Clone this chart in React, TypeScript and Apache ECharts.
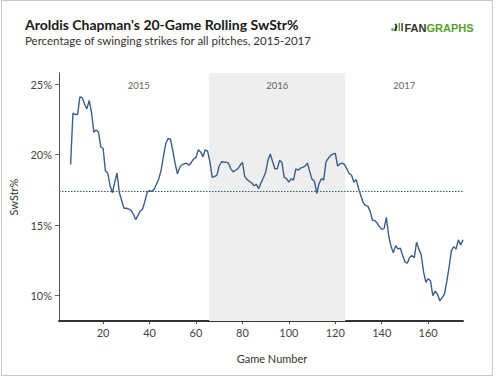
import React, { useEffect, useRef } from "react";
import * as echarts from "echarts";

const games: number[] = [
  6, 7, 8, 9, 10, 11, 12, 13, 14, 15, 16, 17, 18, 19, 20, 21, 22, 23, 24, 25,
  26, 27, 28, 29, 30, 31, 32, 33, 34, 35, 36, 37, 38, 39, 40, 41, 42, 43, 44, 45,
  46, 47, 48, 49, 50, 51, 52, 53, 54, 55, 56, 57, 58, 59, 60, 61, 62, 63, 64, 65,
  66, 67, 68, 69, 70, 71, 72, 73, 74, 75, 76, 77, 78, 79, 80, 81, 82, 83, 84, 85,
  86, 87, 88, 89, 90, 91, 92, 93, 94, 95, 96, 97, 98, 99, 100, 101, 102, 103, 104, 105,
  106, 107, 108, 109, 110, 111, 112, 113, 114, 115, 116, 117, 118, 119, 120, 121, 122, 123, 124, 125,
  126, 127, 128, 129, 130, 131, 132, 133, 134, 135, 136, 137, 138, 139, 140, 141, 142, 143, 144, 145,
  146, 147, 148, 149, 150, 151, 152, 153, 154, 155, 156, 157, 158, 159, 160, 161, 162, 163, 164, 165,
  166, 167, 168, 169, 170, 171, 172, 173, 174, 175,
];

const swstr: number[] = [
  19.3, 22.95, 22.85, 22.85, 24.1, 24.05, 23.6, 23.25, 23.85, 23.0, 21.6, 21.75, 21.6, 20.55, 20.45, 18.85, 18.7, 17.8, 17.3, 18.05,
  18.7, 17.3, 16.75, 16.2, 16.2, 16.15, 16.05, 15.8, 15.4, 15.7, 16.0, 16.15, 16.7, 17.35, 17.45, 17.4, 17.55, 17.9, 18.3, 18.9,
  19.9, 20.8, 21.15, 21.1, 20.3, 19.4, 18.65, 19.1, 19.3, 19.35, 19.4, 19.25, 19.45, 19.7, 19.8, 20.35, 20.2, 19.85, 20.35, 20.25,
  19.5, 18.4, 18.45, 18.55, 19.2, 19.5, 19.48, 19.47, 19.4, 19.0, 18.78, 18.9, 19.0, 19.25, 19.45, 18.45, 18.25, 18.1, 18.0, 17.8,
  17.9, 17.6, 18.0, 18.35, 18.75, 19.6, 20.05, 19.5, 19.0, 19.0, 19.6, 19.45, 18.4, 18.3, 18.05, 18.3, 18.2, 19.0, 18.9, 19.05,
  19.1, 19.2, 19.4, 18.8, 18.25, 18.15, 17.25, 17.95, 18.3, 18.2, 19.5, 19.75, 19.95, 20.05, 20.1, 19.2, 19.35, 19.4, 19.3, 19.0,
  18.65, 18.55, 18.05, 18.25, 17.6, 17.1, 16.6, 16.4, 16.35, 16.0, 15.35, 15.33, 15.15, 14.9, 14.7, 14.75, 15.55, 14.25, 13.5, 13.04,
  13.55, 13.32, 13.36, 12.84, 12.4, 12.3, 12.7, 12.84, 12.68, 13.79, 13.3, 12.9, 11.7, 10.95, 11.2, 11.05, 10.0, 10.31, 10.12, 9.64,
  9.86, 10.1, 11.0, 12.0, 13.2, 13.48, 13.3, 13.96, 13.6, 13.96,
];

const average = 17.39;
const xTicks: number[] = [20, 40, 60, 80, 100, 120, 140, 160];
const yTicks: number[] = [10, 15, 20, 25];
const seasons: string[] = ["2015", "2016", "2017"];
const seasonStart: number[] = [5, 65.7, 124.3];
const seasonEnd: number[] = [65.7, 124.3, 175.7];
const seasonShaded: boolean[] = [false, true, false];

export default function App() {
  const ref = useRef<HTMLDivElement>(null);

  useEffect(() => {
    document.body.style.margin = "0";
    if (!ref.current) return;
    const chart = echarts.init(ref.current, undefined, { renderer: "svg" });
    const font = "Lato, 'Open Sans', sans-serif";

    chart.setOption({
      animation: false,
      backgroundColor: "#ffffff",
      title: {
        text: "Aroldis Chapman's 20-Game Rolling SwStr%",
        subtext: "Percentage of swinging strikes for all pitches, 2015-2017",
        left: 20,
        top: 12,
        itemGap: 3,
        textStyle: { fontFamily: font, fontSize: 14, fontWeight: "bold", color: "#1a1a1a" },
        subtextStyle: { fontFamily: font, fontSize: 11.5, color: "#333333" },
      },
      grid: { left: 55, right: 33, top: 73, bottom: 56 },
      xAxis: {
        type: "value",
        min: 1,
        max: 175,
        name: "Game Number",
        nameLocation: "middle",
        nameGap: 32,
        nameTextStyle: { fontFamily: font, fontSize: 11, color: "#333", padding: [0, 0, 0, 22] },
        axisLine: { show: true, lineStyle: { color: "#333", width: 2 } },
        axisTick: { show: true, customValues: xTicks, length: 3, lineStyle: { color: "#444" } },
        axisLabel: { customValues: xTicks, fontFamily: font, fontSize: 11, color: "#444", margin: 6 },
        splitLine: { show: false },
      },
      yAxis: {
        type: "value",
        min: 8.2,
        max: 25.8,
        name: "SwStr%",
        nameLocation: "middle",
        nameGap: 40,
        nameTextStyle: { fontFamily: font, fontSize: 11, color: "#333" },
        axisLine: { show: true, lineStyle: { color: "#555", width: 1 } },
        axisTick: { show: true, customValues: yTicks, length: 4, lineStyle: { color: "#666" } },
        axisLabel: {
          customValues: yTicks,
          formatter: (v: number) => `${v}%`,
          fontFamily: font,
          fontSize: 11,
          color: "#444",
          margin: 7,
        },
        splitLine: { show: false },
      },
      series: [
        {
          type: "line",
          data: games.map((g, i) => [g, swstr[i]]),
          showSymbol: false,
          lineStyle: { color: "#3b5f88", width: 1.4 },
          z: 3,
          markArea: {
            silent: true,
            label: {
              show: true,
              position: "insideTop",
              distance: 7,
              fontFamily: font,
              fontSize: 9.5,
              color: "#666",
            },
            data: seasons.map((s, i) => [
              {
                name: s,
                xAxis: seasonStart[i],
                itemStyle: { color: seasonShaded[i] ? "#eeeeee" : "rgba(0,0,0,0)" },
              },
              { xAxis: seasonEnd[i] },
            ]),
          },
          markLine: {
            silent: true,
            symbol: "none",
            label: { show: false },
            lineStyle: { color: "#2e5f7c", width: 1, type: [1.5, 1.5] },
            data: [{ yAxis: average }],
          },
        },
      ],
      graphic: [
        { type: "circle", shape: { cx: 392.5, cy: 29.5, r: 1.3 }, style: { fill: "#5aa02c" } },
        {
          type: "polygon",
          shape: { points: [[394, 31], [395.5, 26], [394.5, 24], [396, 23.5], [397.5, 26], [396.5, 31]] },
          style: { fill: "#333" },
        },
        { type: "rect", shape: { x: 398.6, y: 23, width: 1.4, height: 8 }, style: { fill: "#5aa02c" } },
        { type: "rect", shape: { x: 401.4, y: 23, width: 1.4, height: 8 }, style: { fill: "#333" } },
        {
          type: "text",
          x: 404.5,
          y: 22,
          style: {
            text: "{a|FAN}{b|GRAPHS}",
            rich: {
              a: { fontFamily: "'Liberation Sans', Arial, sans-serif", fontWeight: "bold", fontSize: 11, fill: "#333" },
              b: { fontFamily: "'Liberation Sans', Arial, sans-serif", fontWeight: "bold", fontSize: 11, fill: "#5aa02c" },
            },
          },
        },
      ],
    });

    return () => chart.dispose();
  }, []);

  return (
    <div style={{ position: "relative", width: 496, height: 377, background: "#fff" }}>
      <div ref={ref} style={{ position: "absolute", left: 0, top: 0, width: 496, height: 377 }} />
      <div
        style={{
          position: "absolute",
          left: 1,
          top: 0,
          width: 492,
          height: 376,
          boxSizing: "border-box",
          border: "1px solid #c8c8c8",
          pointerEvents: "none",
        }}
      />
    </div>
  );
}
